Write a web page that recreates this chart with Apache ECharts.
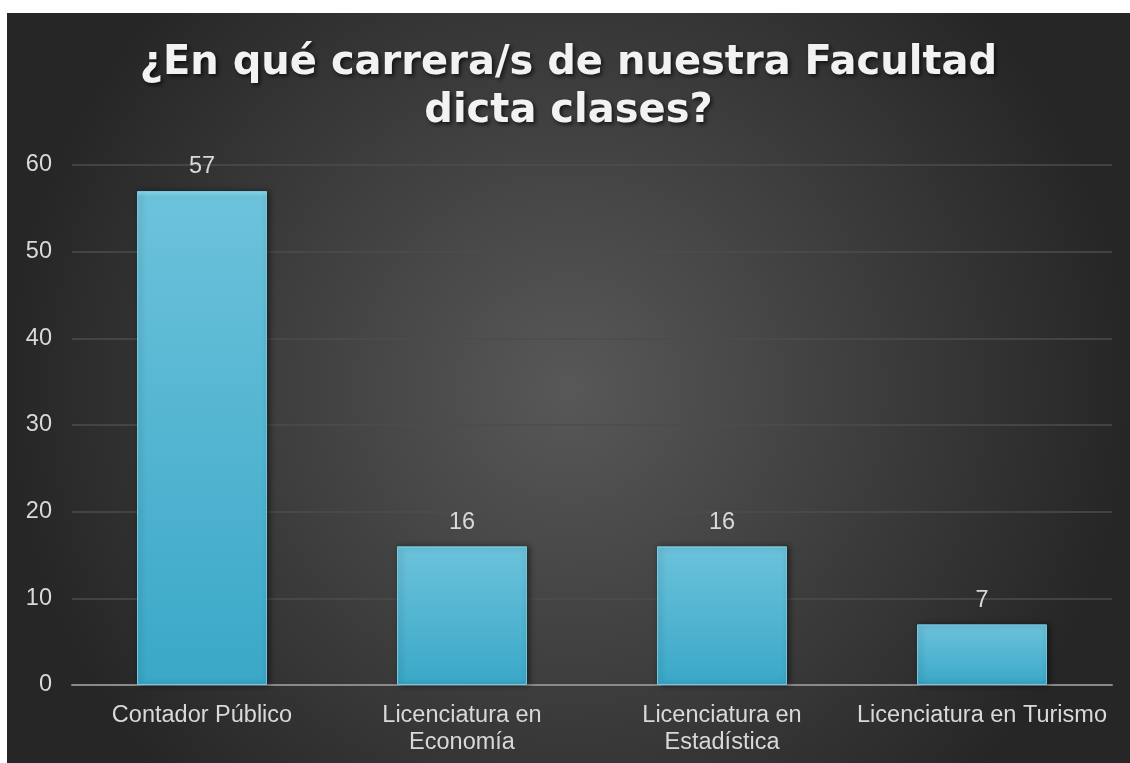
<!DOCTYPE html>
<html>
<head>
<meta charset="utf-8">
<script src="https://cdn.jsdelivr.net/npm/echarts@6/dist/echarts.min.js"></script>
<style>
  html, body { margin: 0; padding: 0; background: #fff; }
  #chart { position: absolute; left: 7px; top: 13px; width: 1123px; height: 750px; }
</style>
</head>
<body>
<div id="chart"></div>
<script>
const categories = ['Contador Público', 'Licenciatura en\nEconomía', 'Licenciatura en\nEstadística', 'Licenciatura en Turismo'];
const values = [57, 16, 16, 7];
const yTicks = { min: 0, max: 60, interval: 10 };

const myChart = echarts.init(document.getElementById('chart'));

const option = {
  backgroundColor: {
    type: 'radial', x: 0.5, y: 0.5, r: 0.75,
    colorStops: [
      { offset: 0, color: '#585858' },
      { offset: 1, color: '#262626' }
    ]
  },
  title: {
    text: '¿En qué carrera/s de nuestra Facultad\ndicta clases?',
    left: 'center',
    top: 22,
    textStyle: {
      color: '#f2f2f2',
      fontFamily: 'DejaVu Sans',
      fontWeight: 'bold',
      fontSize: 40,
      lineHeight: 48,
      textShadowColor: 'rgba(0,0,0,0.7)',
      textShadowBlur: 4,
      textShadowOffsetX: 2,
      textShadowOffsetY: 2
    }
  },
  grid: { left: 65, right: 18, top: 152, bottom: 78 },
  xAxis: {
    type: 'category',
    data: categories,
    axisTick: { show: false },
    axisLine: { lineStyle: { color: '#8a8a8a', width: 2 } },
    axisLabel: {
      color: '#d9d9d9',
      fontFamily: 'Liberation Sans',
      fontSize: 23.5,
      lineHeight: 27,
      margin: 17,
      interval: 0
    }
  },
  yAxis: {
    type: 'value',
    min: yTicks.min,
    max: yTicks.max,
    interval: yTicks.interval,
    axisLine: { show: false },
    axisTick: { show: false },
    splitLine: { lineStyle: { color: '#4c4c4c', width: 1.5 } },
    axisLabel: {
      color: '#d9d9d9',
      fontFamily: 'Liberation Sans',
      fontSize: 23.5,
      margin: 20
    }
  },
  series: [
    {
      type: 'bar',
      data: values,
      barWidth: '50%',
      itemStyle: {
        color: {
          type: 'linear', x: 0, y: 0, x2: 0, y2: 1,
          colorStops: [
            { offset: 0, color: '#8fe3f5' },
            { offset: 0.012, color: '#6cc2db' },
            { offset: 1, color: '#3aa8c8' }
          ]
        },
        borderColor: 'rgba(120,210,235,0.9)',
        borderWidth: 1,
        shadowColor: 'rgba(0,0,0,0.5)',
        shadowBlur: 6,
        shadowOffsetX: 2,
        shadowOffsetY: 0
      },
      label: {
        show: true,
        position: 'top',
        distance: 12,
        color: '#d9d9d9',
        fontFamily: 'Liberation Sans',
        fontSize: 23.5
      }
    }
  ]
};

myChart.setOption(option);
</script>
</body>
</html>
